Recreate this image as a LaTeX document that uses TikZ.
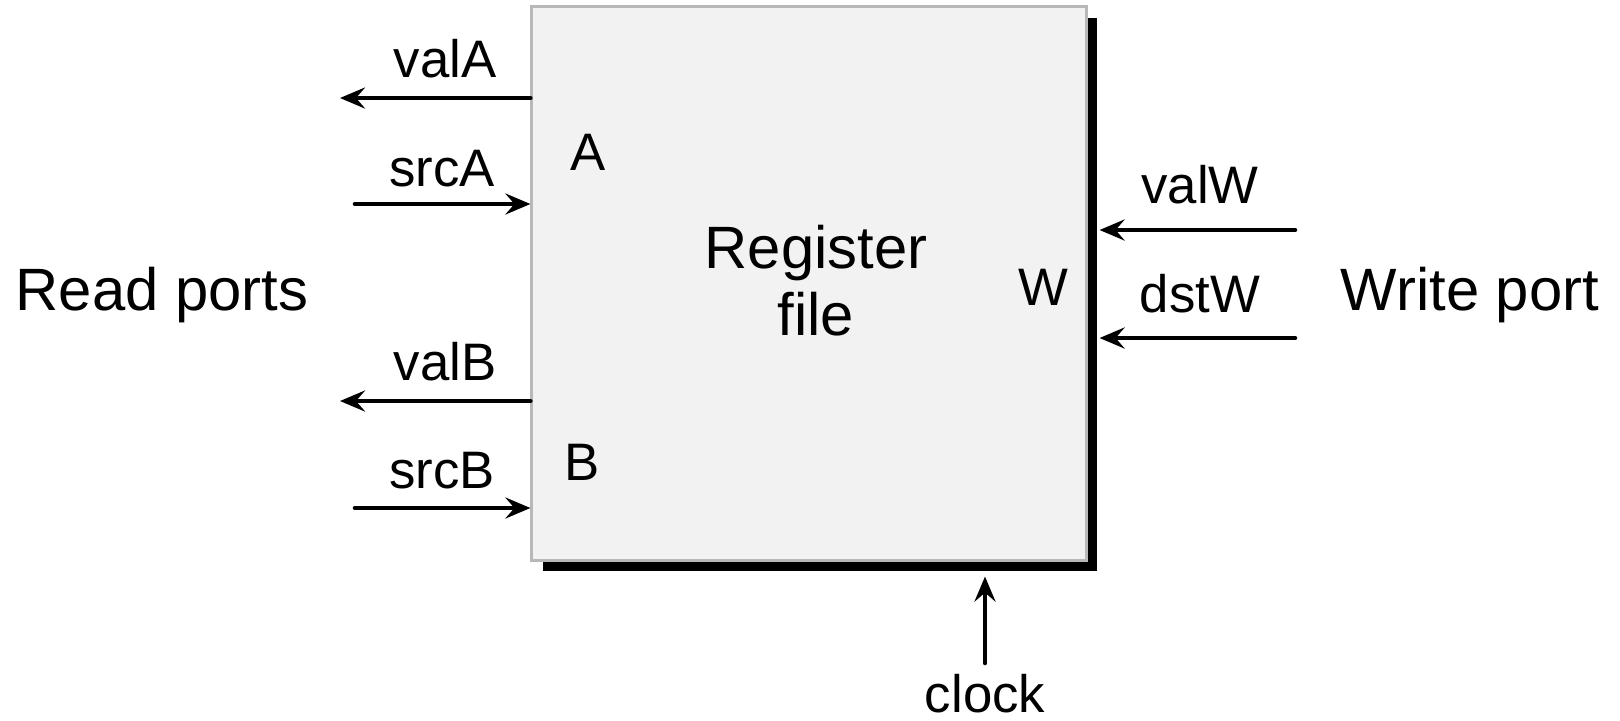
\documentclass[tikz,border=0pt]{standalone}
\usepackage{fontspec}
\setmainfont{Liberation Sans}
\usetikzlibrary{arrows.meta,shadows}
\definecolor{rfFill}{HTML}{F2F2F2}
\definecolor{rfEdge}{HTML}{B8B8B8}
\tikzset{
  rf diagram/.style={x=0.01cm, y=-0.01cm, font=\fontsize{15}{18}\selectfont,
    line cap=round, line join=miter},
  rf box/.style={draw=rfEdge, fill=rfFill, line width=0.8pt, inner sep=0pt,
    minimum width=5.54cm, minimum height=5.53cm,
    drop shadow={shadow xshift=1.1mm, shadow yshift=-1.1mm, fill=black, opacity=1}},
  rf arrow/.style={-{Stealth[length=2.5mm,width=2.1mm,inset=0.9mm]}, line width=1.3pt},
  rf label/.style={anchor=base, inner sep=0pt},
  rf title/.style={rf label, font=\fontsize{17}{19}\selectfont}
}

\begin{document}
\begin{tikzpicture}[rf diagram]
\useasboundingbox (0,0) rectangle (1620,720);
\node[rf box] (rf) at (809,283.5) {};
\node[rf title, anchor=center, align=center] (rfname) at (816,281) {Register\\file};
% port letters
\node[rf label] (portA) at (588,170) {A};
\node[rf label] (portB) at (582,480) {B};
\node[rf label] (portW) at (1043,305) {W};
% read side
\foreach \name/\y in {valA/98,valB/401}{
  \coordinate (\name out) at (340,\y);
  \draw[rf arrow] (rf.west |- \name out) -- (\name out);
}
\foreach \name/\y in {srcA/204,srcB/508}{
  \coordinate (\name in) at (355,\y);
  \draw[rf arrow] (\name in) -- (rf.west |- \name in);
}
\foreach \name/\x/\y in {valA/445/77,srcA/442/186,valB/445/380,srcB/442/488}{
  \node[rf label] (\name) at (\x,\y) {\name};
}
% write side
\foreach \name/\y/\ly in {valW/230/203,dstW/338/312}{
  \coordinate (\name in) at (1295,\y);
  \draw[rf arrow] (\name in) -- ([xshift=1.2mm]rf.east |- \name in);
  \node[rf label] (\name) at (1200,\ly) {\name};
}
% clock
\coordinate (clockin) at (985,663);
\draw[rf arrow] (clockin) -- ([yshift=-1.5mm]rf.south -| clockin);
\node[rf label] (clock) at (985,712) {clock};
% group titles
\node[rf title] (readports) at (162,310) {Read ports};
\node[rf title] (writeport) at (1470,310) {Write port};
\end{tikzpicture}
\end{document}
